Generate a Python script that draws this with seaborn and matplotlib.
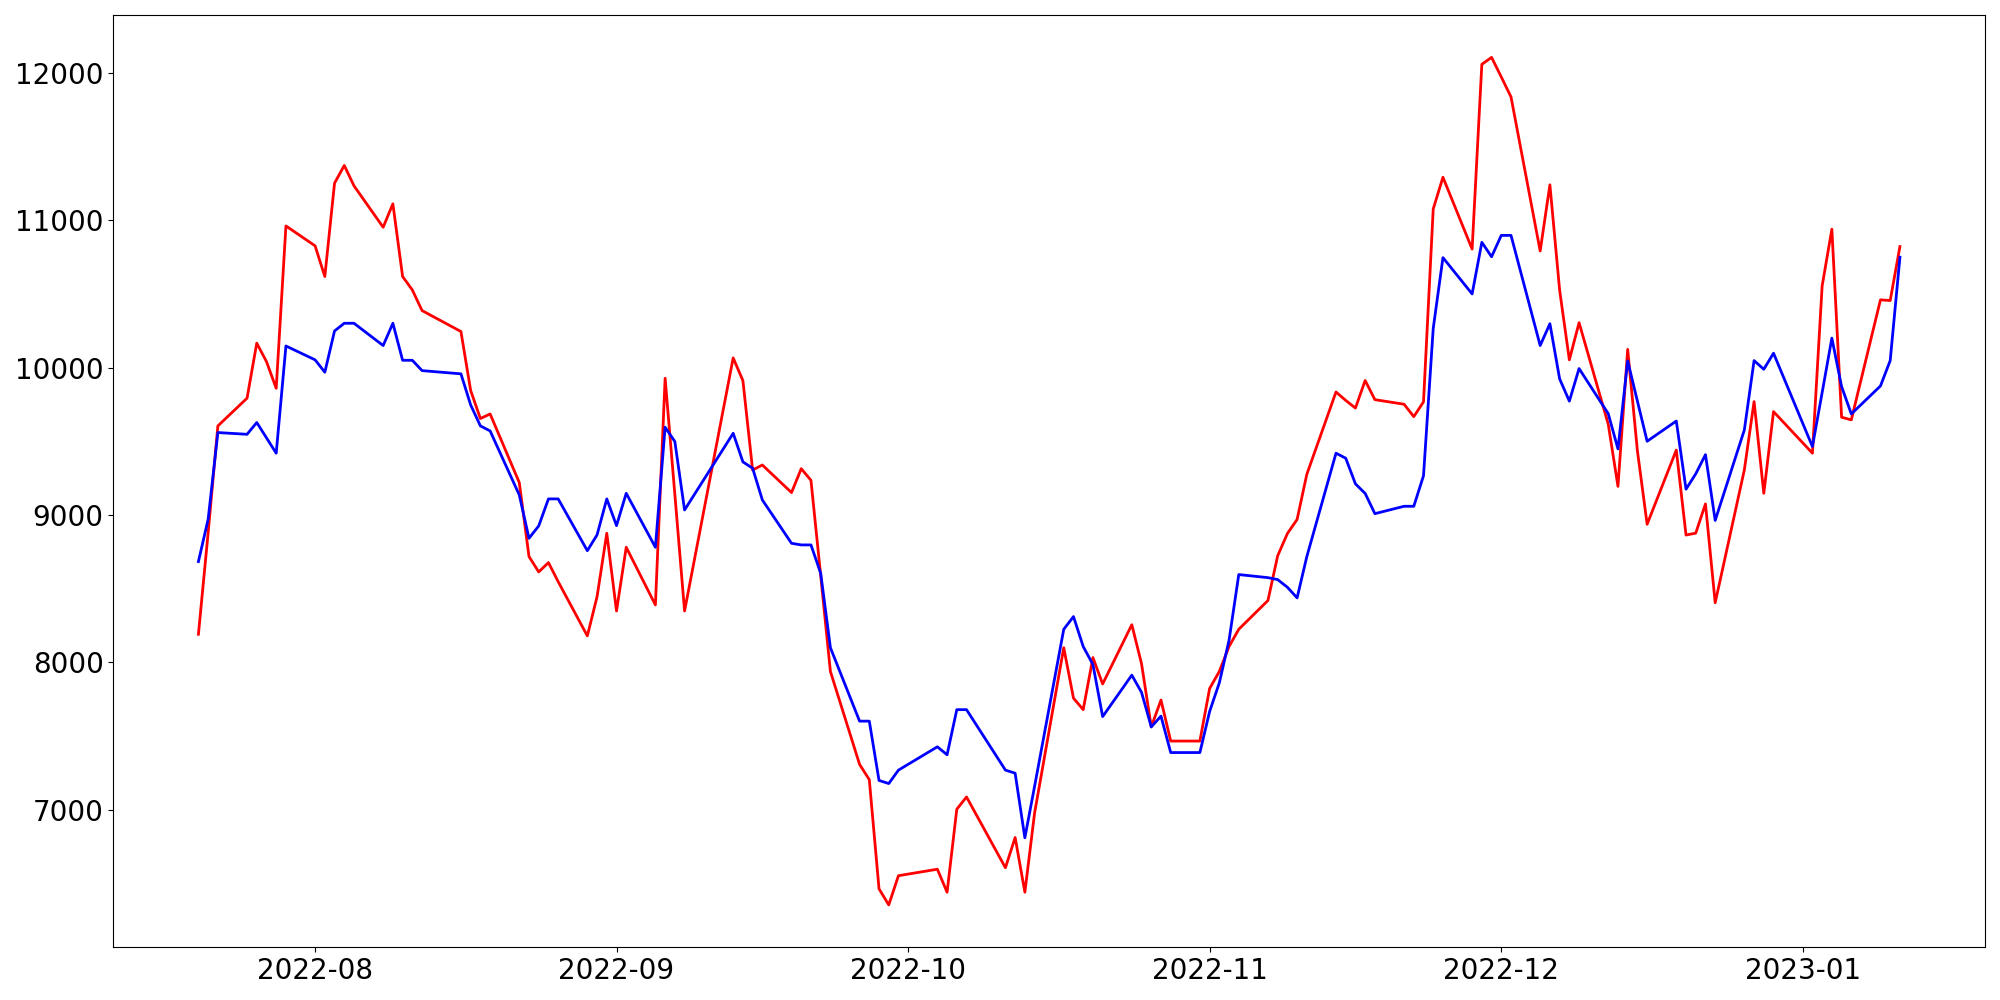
import pandas as pd
import seaborn as sns
import matplotlib.pyplot as plt

# trading days (Korean market holidays removed)
holidays = ['2022-08-15', '2022-09-09', '2022-09-12', '2022-10-03', '2022-10-10', '2022-12-30']
dates = pd.bdate_range('2022-07-20', '2023-01-11', freq='C', holidays=holidays)

red_values = [
    # Jul
    8191, 8880, 9604, 9792, 10165, 10040, 9859, 10960,
    # Aug
    10825, 10617, 11250, 11370, 11232, 10951, 11110, 10617, 10526, 10386, 10244,
    9844, 9654, 9685, 9220, 8718, 8614, 8677, 8548, 8180, 8446, 8876,
    # Sep
    8349, 8781, 8390, 9927, 9140, 8349, 10065, 9911, 9305, 9339, 9152, 9314,
    9235, 8590, 7939, 7309, 7205, 6465, 6356, 6554,
    # Oct
    6598, 6442, 7005, 7088, 6608, 6813, 6442, 6979, 8100, 7758, 7680, 8033,
    7854, 8256, 7991, 7563, 7745, 7467, 7467,
    # Nov
    7823, 7939, 8108, 8225, 8420, 8723, 8874, 8970, 9276, 9834, 9777, 9725,
    9912, 9782, 9751, 9667, 9767, 11075, 11290, 10803, 12056, 12103,
    # Dec
    11970, 11835, 10790, 11239, 10525, 10052, 10304, 9616, 9194, 10123, 9435,
    8937, 9440, 8864, 8877, 9075, 8405, 9306, 9769, 9147, 9701,
    # Jan
    9419, 10553, 10938, 9663, 9645, 10459, 10454, 10820,
]

blue_values = [
    # Jul
    8684, 8971, 9559, 9547, 9627, 9523, 9419, 10146,
    # Aug
    10052, 9968, 10248, 10300, 10300, 10149, 10300, 10049, 10049, 9979, 9957,
    9746, 9604, 9570, 9136, 8842, 8926, 9109, 9109, 8758, 8865, 9109,
    # Sep
    8928, 9147, 8781, 9595, 9498, 9034, 9554, 9360, 9317, 9102, 8808, 8797,
    8797, 8605, 8100, 7602, 7602, 7200, 7179, 7270,
    # Oct
    7428, 7374, 7680, 7680, 7270, 7249, 6811, 7160, 8225, 8311, 8108, 7986,
    7633, 7914, 7797, 7563, 7636, 7389, 7389,
    # Nov
    7667, 7862, 8150, 8596, 8575, 8562, 8510, 8438, 8718, 9419, 9385, 9211,
    9146, 9009, 9059, 9059, 9266, 10265, 10745, 10499, 10849, 10751,
    # Dec
    10896, 10896, 10149, 10297, 9923, 9772, 9993, 9687, 9448, 10045, 9772,
    9500, 9637, 9175, 9279, 9409, 8963, 9577, 10047, 9988, 10097,
    # Jan
    9464, 9830, 10199, 9871, 9685, 9875, 10047, 10748,
]

df = pd.DataFrame({'date': dates, 'red': red_values, 'blue': blue_values})

fig = plt.figure(figsize=(20, 10), dpi=100)
ax = fig.add_subplot(111)
sns.lineplot(data=df, x='date', y='red', color='red', linewidth=2, ax=ax)
sns.lineplot(data=df, x='date', y='blue', color='blue', linewidth=2, ax=ax)

ax.set_xlabel('')
ax.set_ylabel('')
ax.tick_params(axis='both', which='major', labelsize=20)

plt.tight_layout()
plt.savefig('out.png')
